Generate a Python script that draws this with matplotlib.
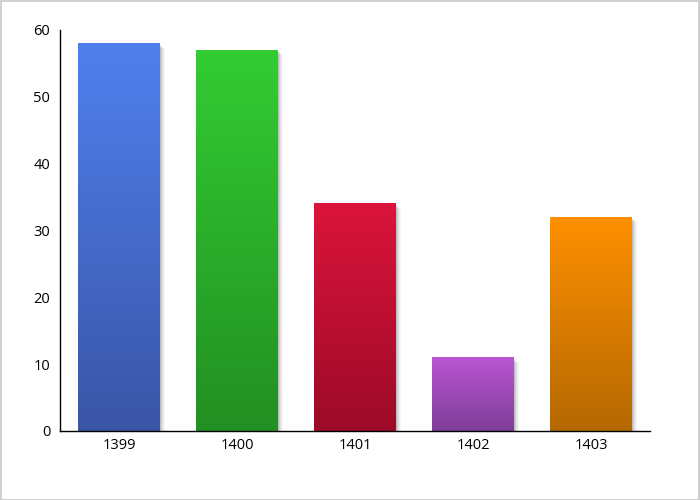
import numpy as np
import matplotlib
matplotlib.use("Agg")
import matplotlib.pyplot as plt
import matplotlib.transforms as mtransforms
from matplotlib.colors import LinearSegmentedColormap
from matplotlib.patches import Rectangle

plt.rcParams['font.family'] = ['Open Sans', 'DejaVu Sans']

# Data
years = ['1399', '1400', '1401', '1402', '1403']
values = [58, 57, 34, 11, 32]
top_colors = ['#5080ee', '#33cc33', '#dc143c', '#ba55d3', '#ff9000']
bottom_colors = ['#3a55a6', '#228f22', '#9c0a28', '#7e3e98', '#b46800']

bar_width = 0.69

fig = plt.figure(figsize=(7, 5), dpi=100)
ax = fig.add_axes([0.0857, 0.138, 0.843, 0.802])

x = np.arange(len(years))
for i, v in enumerate(values):
    left = x[i] - bar_width / 2
    # soft shadow
    for k, a in enumerate([0.09, 0.07, 0.05, 0.04, 0.03]):
        off = mtransforms.offset_copy(ax.transData, fig=fig, x=1.5 + k * 0.9, y=-(1.5 + k * 0.9), units='dots')
        ax.add_patch(Rectangle((left, 0), bar_width, v, facecolor='black', alpha=a,
                               edgecolor='none', transform=off, zorder=1))
    cmap = LinearSegmentedColormap.from_list('g%d' % i, [bottom_colors[i], top_colors[i]])
    grad = np.linspace(0, 1, 256).reshape(-1, 1)
    ax.imshow(grad, cmap=cmap, origin='lower', aspect='auto',
              extent=[left, left + bar_width, 0, v], zorder=2)

ax.set_xlim(-0.5, len(years) - 0.5)
ax.set_ylim(0, 60)
ax.set_xticks(x)
ax.set_xticklabels(years)
ax.set_yticks(range(0, 61, 10))
ax.tick_params(axis='both', length=0, labelsize=10.5, colors='black')
ax.tick_params(axis='x', pad=5)
ax.tick_params(axis='y', pad=7)
for s in ['top', 'right']:
    ax.spines[s].set_visible(False)
ax.spines['left'].set_linewidth(1)
ax.spines['bottom'].set_linewidth(1)

# figure border
fig.patches.append(Rectangle((0.001, 0.001), 0.998, 0.997, transform=fig.transFigure,
                             fill=False, edgecolor='#c8c8c8', linewidth=1.2))

fig.savefig('out.png', dpi=100)
